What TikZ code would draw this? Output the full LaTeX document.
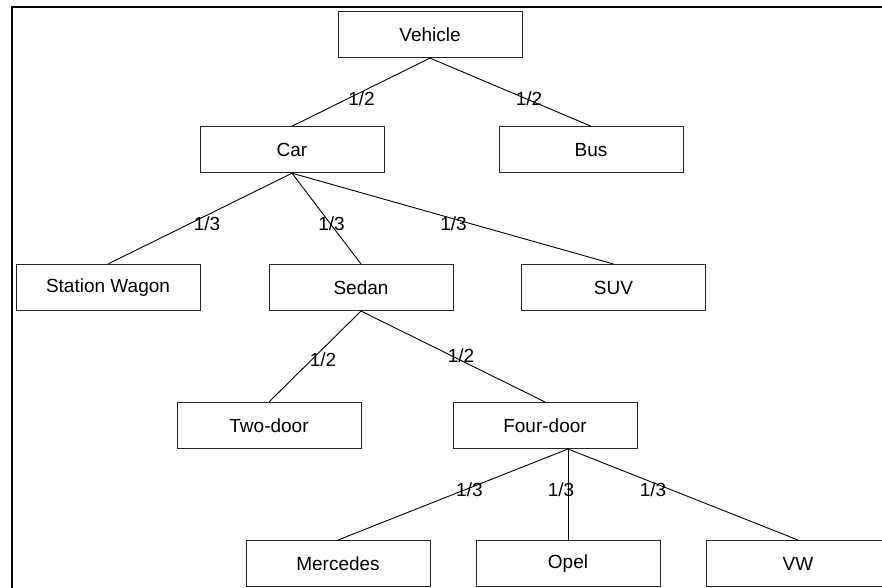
\documentclass[tikz,border=0pt]{standalone}
\usepackage{fontspec}
\setmainfont{Liberation Sans}
\begin{document}
\begin{tikzpicture}[x=1pt,y=-1pt,
  box/.style={draw=black!85,line width=1pt,minimum width=184pt,minimum height=46pt,inner sep=0pt,font=\fontsize{19}{22}\selectfont},
  lbl/.style={inner sep=0pt,font=\fontsize{19}{22}\selectfont},
  conn/.style={draw=black,line width=0.9pt}]
\useasboundingbox (0,0) rectangle (882,588);
\clip (0,0) rectangle (882,588);
\fill[white] (0,0) rectangle (882,588);
\draw[line width=1.6pt] (12,600) -- (12,7) -- (900,7);
% nodes
\node[box] (veh) at (430,34.6) {Vehicle};
\node[box] (car) at (292,149.7) {Car};
\node[box] (bus) at (591,149.7) {Bus};
\node[box] (sw) at (108,287.5) {Station Wagon};
\node[box] (sed) at (361,287.5) {Sedan};
\node[box] (suv) at (613.5,287.5) {SUV};
\node[box] (two) at (269,425.5) {Two-door};
\node[box] (four) at (545,425.5) {Four-door};
\node[box] (mer) at (338,563.5) {Mercedes};
\node[box] (opel) at (568,563.5) {Opel};
\node[box] (vw) at (798,563.5) {VW};
% connectors
\draw[conn] (veh.south) -- (car.north);
\draw[conn] (veh.south) -- (bus.north);
\draw[conn] (car.south) -- (sw.north);
\draw[conn] (car.south) -- (sed.north);
\draw[conn] (car.south) -- (suv.north);
\draw[conn] (sed.south) -- (two.north);
\draw[conn] (sed.south) -- (four.north);
\coordinate (fdj) at ([xshift=23pt]four.south);
\draw[conn] (fdj) -- (mer.north);
\draw[conn] (fdj) -- (opel.north);
\draw[conn] (fdj) -- (vw.north);
% labels
\node[lbl] (l1) at (361.5,98.5) {1/2};
\node[lbl] (l2) at (529,98.5) {1/2};
\node[lbl] (l3) at (207,223.3) {1/3};
\node[lbl] (l4) at (331.5,223.3) {1/3};
\node[lbl] (l5) at (453.6,223.3) {1/3};
\node[lbl] (l6) at (323,360) {1/2};
\node[lbl] (l7) at (461,356) {1/2};
\node[lbl] (l8) at (469.4,490) {1/3};
\node[lbl] (l9) at (561,490) {1/3};
\node[lbl] (l10) at (653,490) {1/3};
\end{tikzpicture}
\end{document}
